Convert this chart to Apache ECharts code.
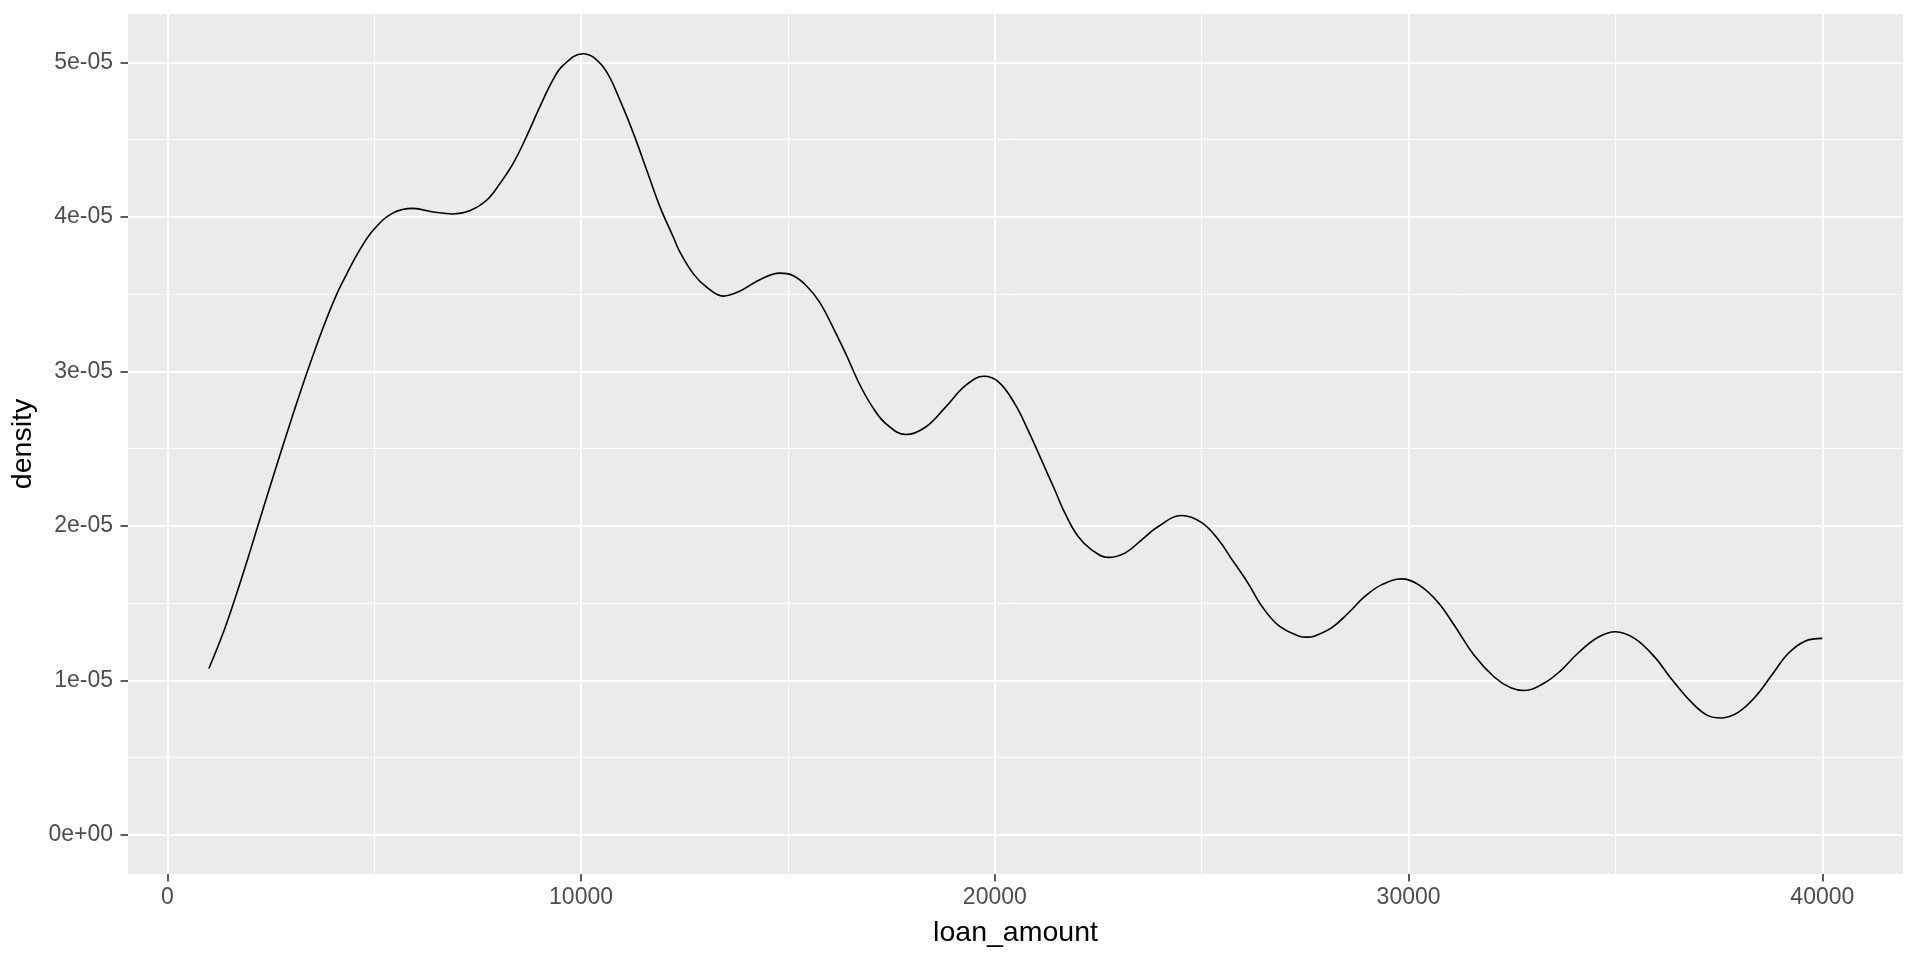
<!DOCTYPE html>
<html>
<head>
<meta charset="utf-8">
<title>loan_amount density</title>
<script src="https://cdn.jsdelivr.net/npm/echarts@6/dist/echarts.min.js"></script>
<style>
  html, body { margin: 0; padding: 0; background: #ffffff; }
  #chart { width: 1920px; height: 960px; }
</style>
</head>
<body>
<div id="chart"></div>
<script>
  'use strict'
  /*-----points-----*/
  var loanAmount = [
    1005, 1360, 1680, 2000, 2245, 2565, 2885, 3210, 3450, 3770,
    4090, 4335, 4655, 5000, 5460, 5940, 6425, 6905, 7310, 7710,
    8030, 8355, 8675, 9000, 9320, 9560, 10040, 10305, 10625, 10945,
    11270, 11590, 11910, 12230, 12390, 12715, 13035, 13435, 13835, 14320,
    14800, 15120, 15440, 15760, 16085, 16405, 16725, 17045, 17365, 17850,
    18330, 18810, 19295, 19735, 20095, 20485, 20805, 21130, 21450, 21695,
    22015, 22340, 22740, 23145, 23550, 23950, 24515, 25000, 25405, 25725,
    26130, 26450, 26855, 27340, 27540, 27740, 28145, 28550, 28950, 29355,
    29840, 30240, 30695, 31100, 31585, 32070, 32470, 32795, 33280, 33685,
    34085, 34570, 35000, 35460, 35945, 36350, 36835, 37235, 37560, 37965,
    38370, 38775, 39175, 39580, 40000
  ];
  var density = [
    1.077e-5, 1.315e-5, 1.566e-5, 1.835e-5, 2.050e-5, 2.325e-5, 2.595e-5, 2.862e-5, 3.050e-5, 3.286e-5,
    3.497e-5, 3.630e-5, 3.788e-5, 3.921e-5, 4.026e-5, 4.055e-5, 4.032e-5, 4.019e-5, 4.040e-5, 4.106e-5,
    4.212e-5, 4.344e-5, 4.516e-5, 4.710e-5, 4.886e-5, 4.979e-5, 5.056e-5, 5.032e-5, 4.935e-5, 4.752e-5,
    4.537e-5, 4.300e-5, 4.063e-5, 3.869e-5, 3.772e-5, 3.631e-5, 3.545e-5, 3.487e-5, 3.519e-5, 3.593e-5,
    3.636e-5, 3.621e-5, 3.556e-5, 3.450e-5, 3.287e-5, 3.110e-5, 2.920e-5, 2.769e-5, 2.662e-5, 2.591e-5,
    2.640e-5, 2.769e-5, 2.909e-5, 2.968e-5, 2.931e-5, 2.790e-5, 2.618e-5, 2.425e-5, 2.232e-5, 2.082e-5,
    1.931e-5, 1.845e-5, 1.796e-5, 1.824e-5, 1.910e-5, 1.996e-5, 2.067e-5, 2.021e-5, 1.910e-5, 1.785e-5,
    1.625e-5, 1.481e-5, 1.356e-5, 1.288e-5, 1.280e-5, 1.288e-5, 1.341e-5, 1.438e-5, 1.545e-5, 1.620e-5,
    1.657e-5, 1.620e-5, 1.511e-5, 1.359e-5, 1.163e-5, 1.022e-5, 0.952e-5, 0.935e-5, 0.983e-5, 1.065e-5,
    1.174e-5, 1.278e-5, 1.315e-5, 1.272e-5, 1.152e-5, 1.011e-5, 0.859e-5, 0.772e-5, 0.757e-5, 0.793e-5,
    0.891e-5, 1.033e-5, 1.174e-5, 1.254e-5, 1.272e-5
  ];

  var xTicks = [0, 10000, 20000, 30000, 40000];
  var xTickLabels = ['0', '10000', '20000', '30000', '40000'];
  var xMinorTicks = [5000, 15000, 25000, 35000];
  var yTicks = [0, 1e-5, 2e-5, 3e-5, 4e-5, 5e-5];
  var yTickLabels = ['0e+00', '1e-05', '2e-05', '3e-05', '4e-05', '5e-05'];
  var yMinorTicks = [0.5e-5, 1.5e-5, 2.5e-5, 3.5e-5, 4.5e-5];

  var fontFamily = '"Liberation Sans", Arial, sans-serif';

  function tickLabel(ticks, labels) {
    return function (v) {
      for (var i = 0; i < ticks.length; i++) {
        if (Math.abs(ticks[i] - v) <= Math.abs(ticks[1] - ticks[0]) * 1e-6) return labels[i];
      }
      return '';
    };
  }

  // white panel grid, drawn as mark lines under the curve
  var gridLines = [];
  xTicks.forEach(function (v) { gridLines.push({ xAxis: v, lineStyle: { width: 2 } }); });
  xMinorTicks.forEach(function (v) { gridLines.push({ xAxis: v, lineStyle: { width: 1 } }); });
  yTicks.forEach(function (v) { gridLines.push({ yAxis: v, lineStyle: { width: 2 } }); });
  yMinorTicks.forEach(function (v) { gridLines.push({ yAxis: v, lineStyle: { width: 1 } }); });

  var curve = loanAmount.map(function (x, i) { return [x, density[i]]; });

  var option = {
    animation: false,
    grid: {
      left: 128,
      right: 17,
      top: 14,
      bottom: 86,
      show: true,
      backgroundColor: '#EBEBEB',
      borderWidth: 0,
      containLabel: false,
      outerBoundsMode: 'none'
    },
    xAxis: {
      type: 'value',
      min: -950,
      max: 41950,
      name: 'loan_amount',
      nameLocation: 'middle',
      nameGap: 45,
      nameTextStyle: { color: '#000', fontSize: 28.5, fontFamily: fontFamily },
      axisLine: { show: false, onZero: false },
      splitLine: { show: false },
      axisTick: {
        show: true,
        length: 7.5,
        customValues: xTicks,
        lineStyle: { color: '#333333', width: 1.6 }
      },
      axisLabel: {
        customValues: xTicks,
        margin: 12,
        fontSize: 23,
        color: '#4D4D4D',
        fontFamily: fontFamily,
        formatter: tickLabel(xTicks, xTickLabels)
      }
    },
    yAxis: {
      type: 'value',
      min: -0.253e-5,
      max: 5.313e-5,
      name: 'density',
      nameLocation: 'middle',
      nameRotate: 90,
      nameGap: 84,
      nameTextStyle: { color: '#000', fontSize: 28.5, fontFamily: fontFamily },
      axisLine: { show: false, onZero: false },
      splitLine: { show: false },
      axisTick: {
        show: true,
        length: 7.5,
        customValues: yTicks,
        lineStyle: { color: '#333333', width: 1.6 }
      },
      axisLabel: {
        customValues: yTicks,
        margin: 15,
        fontSize: 23,
        color: '#4D4D4D',
        fontFamily: fontFamily,
        formatter: tickLabel(yTicks, yTickLabels)
      }
    },
    series: [
      {
        name: 'grid',
        type: 'line',
        z: 1,
        silent: true,
        data: [],
        markLine: {
          z: 1,
          silent: true,
          precision: 12,
          symbol: ['none', 'none'],
          label: { show: false },
          emphasis: { disabled: true },
          lineStyle: { color: '#FFFFFF', type: 'solid', opacity: 1 },
          data: gridLines
        }
      },
      {
        name: 'density',
        type: 'line',
        z: 3,
        smooth: 0.4,
        showSymbol: false,
        symbol: 'none',
        data: curve,
        lineStyle: { color: '#000000', width: 1.6 }
      }
    ]
  };

  var chart = echarts.init(document.getElementById('chart'));
  chart.setOption(option);
</script>
</body>
</html>
